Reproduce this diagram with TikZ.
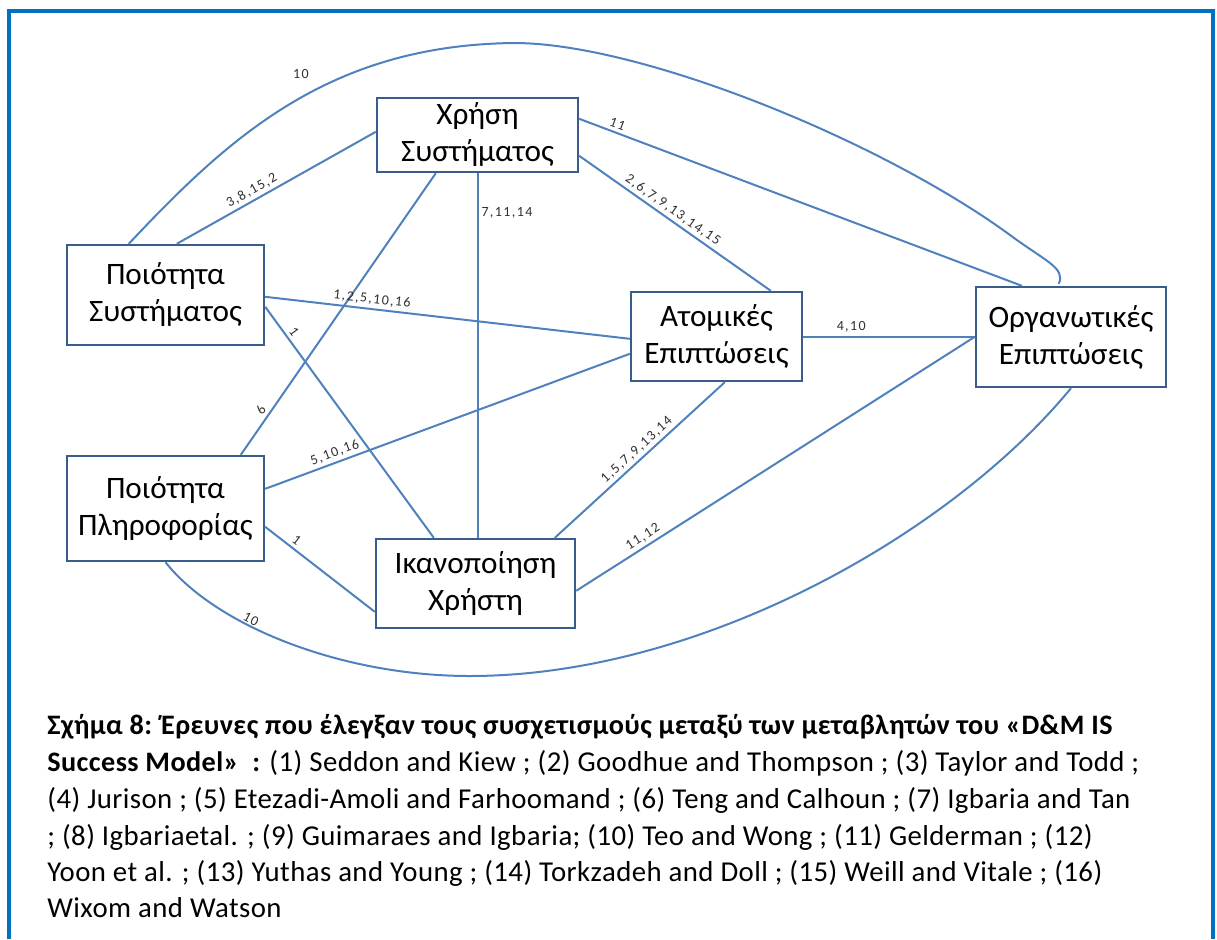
\documentclass[tikz,border=0pt]{standalone}
\usepackage{fontspec}
\setmainfont{Carlito}
\newfontfamily\labfont[LetterSpace=10]{Carlito}
\newfontfamily\capfont[LetterSpace=1.5]{Carlito}
\newcommand{\capbold}[1]{{\fontsize{14.1}{17}\selectfont\bfseries #1}}
\usetikzlibrary{calc}
\definecolor{frameblue}{HTML}{0070C0}
\definecolor{boxline}{HTML}{385D8A}
\definecolor{linkblue}{HTML}{4F81BD}
\definecolor{labgray}{HTML}{303030}
\begin{document}
\begin{tikzpicture}[x=0.5pt,y=-0.5pt,
  var/.style={draw=boxline, line width=1.2pt, rectangle, align=center, inner sep=0pt,
    font=\fontsize{15.6}{18.5}\selectfont},
  link/.style={draw=linkblue, line width=1pt},
  lab/.style={font=\labfont\fontsize{7}{8}\selectfont, text=labgray, inner sep=1.5pt},
  captxt/.style={anchor=base west, inner sep=0pt, font=\capfont\fontsize{14.4}{17}\selectfont}
]
\useasboundingbox (0,0) rectangle (1217,939);

% outer frame, open at the bottom
\draw[frameblue, line width=2pt] (9,939) -- (9,11) -- (1213,11) -- (1213,939);

% variables of the model
\node[var, minimum width=100.5pt, minimum height=37pt]   (use) at (477.5,135)  {Χρήση\\Συστήματος};
\node[var, minimum width=98.5pt,  minimum height=50pt]   (ps)  at (165.5,295)  {Ποιότητα\\Συστήματος};
\node[var, minimum width=98.5pt,  minimum height=52.5pt] (pi)  at (165.5,508.5){Ποιότητα\\Πληροφορίας};
\node[var, minimum width=85.5pt,  minimum height=44.5pt] (ind) at (716.5,336.5){Ατομικές\\Επιπτώσεις};
\node[var, minimum width=95pt,    minimum height=50pt]   (org) at (1071,337)   {Οργανωτικές\\Επιπτώσεις};
\node[var, minimum width=99.5pt,  minimum height=44.5pt] (sat) at (475.5,583.5){Ικανοποίηση\\Χρήστη};

% straight relations, labelled with the studies that tested them
\draw[link] ($(ps.north west)+(111,0)$) -- node[lab, pos=0.4, sloped, above] (l1) {3,8,15,2} ($(use.north west)+(0,35)$);
\draw[link] ($(use.north east)+(0,22)$) -- node[lab, pos=0.08, sloped, above] (l2) {11} ($(org.north west)+(47,0)$);
\draw[link] ($(use.north east)+(0,59)$) -- node[lab, pos=0.46, sloped, above] (l3) {2,6,7,9,13,14,15} ($(ind.north west)+(141,0)$);
\draw[link] (use.south) -- node[lab, pos=0.11, right] (l4) {7,11,14} (use.south |- sat.north);
\draw[link] ($(use.south west)+(60,0)$) -- node[lab, pos=0.86, sloped, above] (l5) {6} ($(pi.north west)+(175,0)$);
\draw[link] ($(ps.north east)+(0,53)$) -- node[lab, pos=0.29, sloped, above] (l6) {1,2,5,10,16} ($(ind.north west)+(0,48)$);
\draw[link] ($(ps.north east)+(0,63)$) -- node[lab, pos=0.13, sloped, above] (l7) {1} ($(sat.north west)+(59,0)$);
\draw[link] ($(pi.north east)+(0,34)$) -- node[lab, pos=0.2, sloped, above] (l8) {5,10,16} ($(ind.north west)+(0,63)$);
\draw[link] ($(pi.north east)+(0,72)$) -- node[lab, pos=0.24, sloped, above] (l9) {1} ($(sat.north west)+(0,74)$);
\draw[link] ($(sat.north west)+(180,0)$) -- node[lab, pos=0.52, sloped, above] (l10) {1,5,7,9,13,14} ($(ind.south west)+(95,0)$);
\draw[link] ($(sat.north east)+(0,53)$) -- node[lab, pos=0.18, sloped, above] (l11) {11,12} ($(org.north west)+(0,51)$);
\draw[link] (ind.east) -- node[lab, pos=0.28, above] (l12) {4,10} (ind.east -| org.west);

% curved relations around the outside
\draw[link] ($(ps.north west)+(63,0)$) .. controls (230,136) and (330,45) .. (514,43)
  .. controls (640,43) and (880,140) .. (1010,235)
  .. controls (1045,261) and (1066,268) .. ($(org.north west)+(84,-2)$);
\node[lab] (l13) at (301,74) {10};
\draw[link] (pi.south) .. controls (215,625) and (340,676) .. (470,676)
  .. controls (700,676) and (950,535) .. (org.south);
\node[lab, rotate=-28] (l14) at (251,619) {10};

% caption
\node[captxt] (cap1) at (47,734) {\capbold{Σχήμα 8: Έρευνες που έλεγξαν τους συσχετισμούς μεταξύ των μεταβλητών του «D\&M IS}};
\node[captxt] (cap2) at (47,771) {\capbold{Success Model»\ \ :} (1) Seddon and Kiew ; (2) Goodhue and Thompson ; (3) Taylor and Todd ;};
\node[captxt] (cap3) at (47,808) {(4) Jurison ; (5) Etezadi-Amoli and Farhoomand ; (6) Teng and Calhoun ; (7) Igbaria and Tan};
\node[captxt] (cap4) at (47,845) {; (8) Igbariaetal. ; (9) Guimaraes and Igbaria; (10) Teo and Wong ; (11) Gelderman ; (12)};
\node[captxt] (cap5) at (47,881) {Yoon et al. ; (13) Yuthas and Young ; (14) Torkzadeh and Doll ; (15) Weill and Vitale ; (16)};
\node[captxt] (cap6) at (47,917) {Wixom and Watson};
\end{tikzpicture}
\end{document}
